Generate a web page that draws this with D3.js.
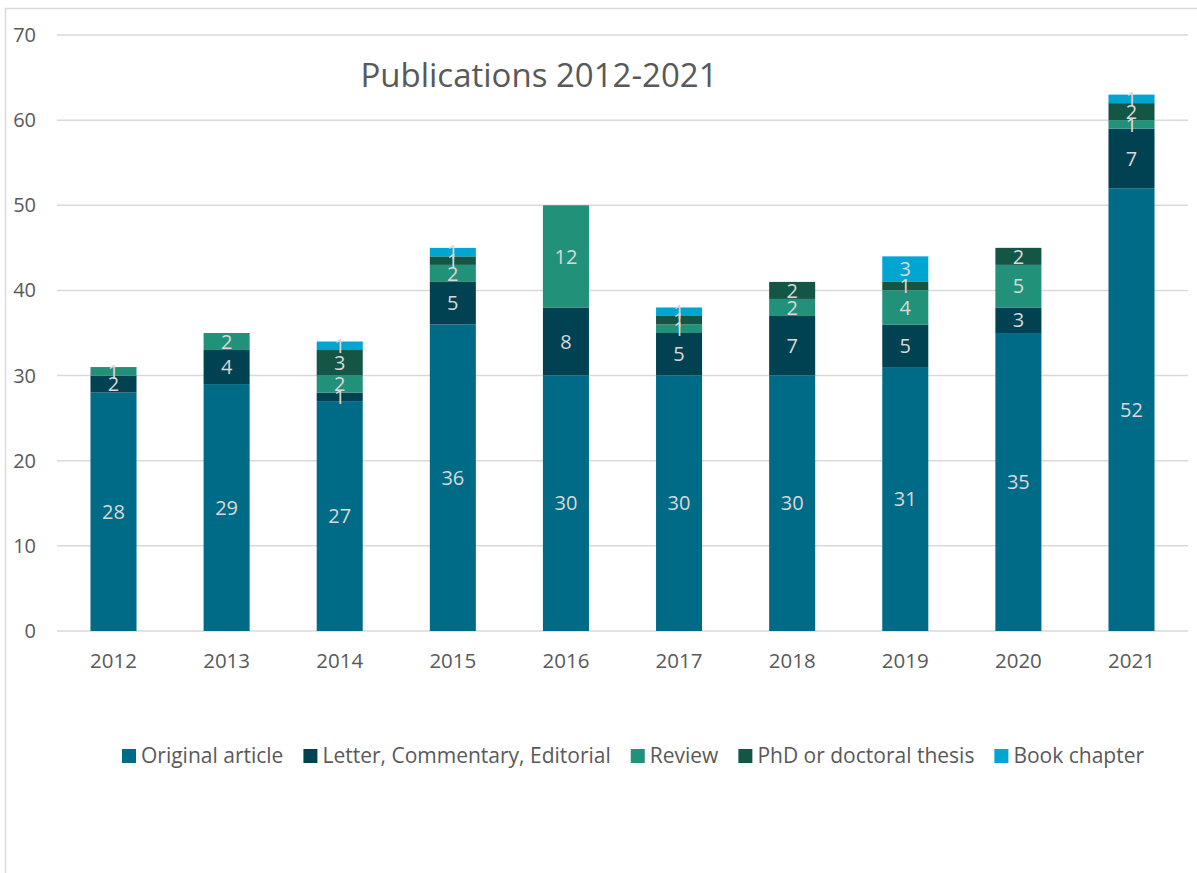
<!DOCTYPE html>
<html><head><meta charset="utf-8">
<script src="https://cdn.jsdelivr.net/npm/d3@7"></script>
<style>body{margin:0;background:#fff;} svg{display:block;font-family:"Open Sans","Noto Sans",sans-serif;}</style>
</head><body>
<svg id="c" width="1197" height="873"></svg>
<script>
const years = ["2012","2013","2014","2015","2016","2017","2018","2019","2020","2021"];
const seriesNames = ["Original article","Letter, Commentary, Editorial","Review","PhD or doctoral thesis","Book chapter"];
const originalArticle = [28,29,27,36,30,30,30,31,35,52];
const letterCommentary = [2,4,1,5,8,5,7,5,3,7];
const review = [1,2,2,2,12,1,2,4,5,1];
const phdThesis = [0,0,3,1,0,1,2,1,2,2];
const bookChapter = [0,0,1,1,0,1,0,3,0,1];
const yTicks = [0,10,20,30,40,50,60,70];
const colors = ["#006b86","#004152","#22917a","#145646","#00a5d2"];
const title = "Publications 2012-2021";

const seriesVals = [originalArticle,letterCommentary,review,phdThesis,bookChapter];
const rows = years.map((y,i)=>{const o={year:y}; seriesNames.forEach((s,k)=>o[s]=seriesVals[k][i]); return o;});
const stacked = d3.stack().keys(seriesNames)(rows);

const svg = d3.select("#c");
// outer border
svg.append("path").attr("d","M5.5,873 V8.5 H1197").attr("fill","none").attr("stroke","#d9d9d9").attr("stroke-width",1.5);

const x0=57, x1=1188, yTop=35, yBot=631;
const x = d3.scaleBand().domain(years).range([x0,x1]).paddingInner(0.593).paddingOuter(0.296);
const y = d3.scaleLinear().domain([0,70]).range([yBot,yTop]);

// gridlines
svg.append("g").selectAll("line").data(yTicks).join("line")
  .attr("x1",x0).attr("x2",x1).attr("y1",d=>y(d)).attr("y2",d=>y(d))
  .attr("stroke","#d9d9d9").attr("stroke-width",1.5);

// y labels
svg.append("g").selectAll("text").data(yTicks).join("text")
  .attr("x",36).attr("y",d=>y(d)).attr("dy","0.35em").attr("text-anchor","end")
  .attr("fill","#595959").style("font-size","20px").text(d=>d);

// x labels
const xAxis = svg.append("g").attr("transform",`translate(0,${yBot})`)
  .call(d3.axisBottom(x).tickSize(0).tickPadding(22));
xAxis.select(".domain").remove();
xAxis.selectAll("text").attr("fill","#595959").style("font-size","20.5px").style("font-family","'Open Sans','Noto Sans',sans-serif");

// bars
const g = svg.append("g");
stacked.forEach((s,k)=>{
  g.append("g").selectAll("rect").data(s).join("rect")
    .attr("x",d=>x(d.data.year)).attr("width",x.bandwidth())
    .attr("y",d=>y(d[1])).attr("height",d=>y(d[0])-y(d[1]))
    .attr("fill",colors[k]);
});
// labels
stacked.forEach((s,k)=>{
  g.append("g").selectAll("text").data(s.filter(d=>d[1]-d[0]>0)).join("text")
    .attr("x",d=>x(d.data.year)+x.bandwidth()/2)
    .attr("y",d=>y((d[0]+d[1])/2)).attr("dy","0.36em")
    .attr("text-anchor","middle").attr("fill","#d9d9d9").style("font-size","20px")
    .text(d=>d[1]-d[0]);
});

// title
svg.append("text").attr("x",539).attr("y",75).attr("dy","0.35em").attr("text-anchor","middle")
  .attr("fill","#595959").style("font-size","33px").text(title);

// legend
const legend = svg.append("g");
let lx = 122;
seriesNames.forEach((n,k)=>{
  legend.append("rect").attr("x",lx).attr("y",749).attr("width",14).attr("height",14).attr("fill",colors[k]);
  const t = legend.append("text").attr("x",lx+19).attr("y",756).attr("dy","0.35em")
    .attr("fill","#595959").style("font-size","21px").text(n);
  const w = t.node().getComputedTextLength();
  lx += 19 + w + 20;
});
</script>
</body></html>
